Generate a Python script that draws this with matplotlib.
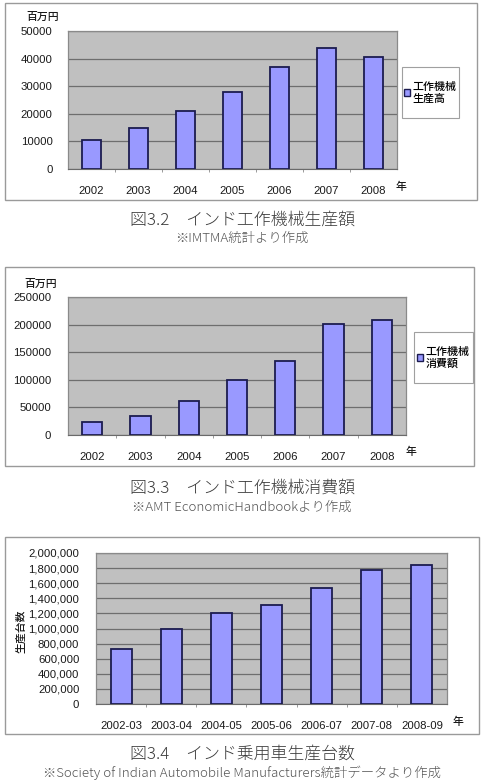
import matplotlib
matplotlib.use("Agg")
import matplotlib.pyplot as plt
from matplotlib.patches import Rectangle
from matplotlib.ticker import FuncFormatter

plt.rcParams["font.family"] = ["Liberation Sans", "Noto Sans CJK JP", "DejaVu Sans"]

W, H = 484, 783

# data
years = ["2002", "2003", "2004", "2005", "2006", "2007", "2008"]
production = [10600, 15000, 21000, 28000, 37000, 43800, 40700]
consumption = [23000, 34000, 61500, 100500, 134500, 201500, 208000]
fiscal_years = ["2002-03", "2003-04", "2004-05", "2005-06", "2006-07", "2007-08", "2008-09"]
car_units = [724000, 989000, 1205000, 1308000, 1540000, 1775000, 1835000]

BAR_COLOR = "#9999ff"
BAR_EDGE = "#1c1c50"
PLOT_BG = "#c0c0c0"
GRID_COLOR = "#6e6e6e"
FRAME_COLOR = "#9a9a9a"
CAPTION_COLOR = "#3a3a3a"
TICK_FONT = 8.2

fig = plt.figure(figsize=(W / 100, H / 100), dpi=100)


def fx(x):
	return x / W


def fy(y):
	return 1 - y / H


def px_axes(left, top, right, bottom):
	return fig.add_axes([fx(left), fy(bottom), (right - left) / W, (bottom - top) / H])


def outer_frame(left, top, right, bottom):
	fig.patches.append(Rectangle((fx(left), fy(bottom)), (right - left) / W, (bottom - top) / H,
		transform=fig.transFigure, facecolor="none", edgecolor=FRAME_COLOR, linewidth=1.0, zorder=-1))


def bar_chart(ax, labels, values, ymax, step, fmt=None, ypad=11):
	xs = range(len(labels))
	ax.set_facecolor(PLOT_BG)
	ax.bar(xs, values, width=0.42, color=BAR_COLOR, edgecolor=BAR_EDGE, linewidth=1.3, zorder=3)
	ax.set_xlim(-0.5, len(labels) - 0.5)
	ax.set_ylim(0, ymax)
	ax.set_yticks(range(0, ymax + 1, step))
	if fmt is not None:
		ax.yaxis.set_major_formatter(FuncFormatter(fmt))
	ax.set_xticks(list(xs))
	ax.set_xticklabels(labels)
	ax.set_xticks([i + 0.5 for i in range(len(labels) - 1)], minor=True)
	ax.grid(axis="y", color=GRID_COLOR, linewidth=0.9, zorder=1)
	ax.set_axisbelow(True)
	for side in ["top", "right", "left"]:
		ax.spines[side].set_color("#8a8a8a")
		ax.spines[side].set_linewidth(0.9)
	ax.spines["bottom"].set_color("#6a6a6a")
	ax.tick_params(axis="x", which="major", length=0, pad=12, labelsize=TICK_FONT, colors="#1a1a1a")
	ax.tick_params(axis="x", which="minor", length=2.5, direction="out", color="#8a8a8a")
	ax.tick_params(axis="y", length=0, pad=ypad, labelsize=TICK_FONT, colors="#1a1a1a")


def legend_box(label, left, top, right, bottom):
	outer = Rectangle((fx(left), fy(bottom)), (right - left) / W, (bottom - top) / H,
		transform=fig.transFigure, facecolor="white", edgecolor="#a0a0a0", linewidth=0.8, zorder=-1)
	fig.patches.append(outer)
	handle = Rectangle((0, 0), 1, 1, facecolor=BAR_COLOR, edgecolor=BAR_EDGE, linewidth=1.0)
	fig.legend([handle], [label], loc="center",
		bbox_to_anchor=(fx((left + right) / 2), fy((top + bottom) / 2)),
		frameon=False, handlelength=0.55, handleheight=0.55, handletextpad=0.25,
		borderpad=0, prop={"family": ["Noto Sans CJK JP"], "size": 7.9, "weight": "medium"})


def caption(y_title, y_sub, title, sub):
	fig.text(0.5, fy(y_title), title, ha="center", va="center", fontsize=12.2,
		color=CAPTION_COLOR, family=["Noto Sans CJK JP"], fontweight="light")
	fig.text(0.5, fy(y_sub), sub, ha="center", va="center", fontsize=9.6,
		color="#555555", family=["Noto Sans CJK JP"], fontweight="light")


def side_text(x, y, s, **kw):
	fig.text(fx(x), fy(y), s, va="center", fontsize=7.8, fontweight="medium",
		family=["Noto Sans CJK JP"], color="#1a1a1a", **kw)


# chart 3.2
outer_frame(5, 3, 477, 200)
ax1 = px_axes(68, 31, 397, 169)
bar_chart(ax1, years, production, 50000, 10000)
side_text(26, 17, "百万円", ha="left")
side_text(396, 187, "年", ha="left")
legend_box("工作機械\n生産高", 402, 67, 459, 118)
caption(220, 238, "図3.2\u3000インド工作機械生産額", "※IMTMA統計より作成")

# chart 3.3
outer_frame(5, 267, 474, 466)
ax2 = px_axes(68, 297, 406, 435)
bar_chart(ax2, years, consumption, 250000, 50000, ypad=12)
side_text(24, 284, "百万円", ha="left")
side_text(406, 452, "年", ha="left")
legend_box("工作機械\n消費額", 414, 332, 473, 383)
caption(488, 507, "図3.3\u3000インド工作機械消費額", "※AMT EconomicHandbookより作成")

# chart 3.4
outer_frame(5, 537, 479, 734)
ax3 = px_axes(96, 553, 447, 704)
bar_chart(ax3, fiscal_years, car_units, 2000000, 200000,
	fmt=lambda v, pos: f"{int(v):,}", ypad=12)
side_text(21, 631, "生産台数", ha="center", rotation=90)
side_text(453, 722, "年", ha="left")
caption(754, 773, "図3.4\u3000インド乗用車生産台数",
	"※Society of Indian Automobile Manufacturers統計データより作成")

fig.savefig("out.png", dpi=100)
